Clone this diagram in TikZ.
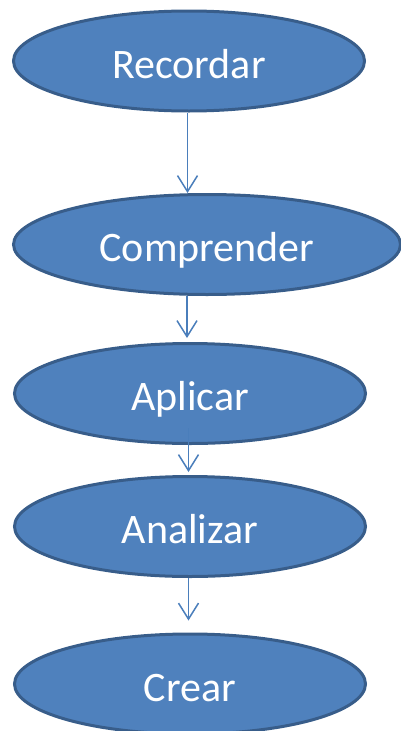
\documentclass[tikz,border=0pt]{standalone}
\usepackage{fontspec}
\setmainfont{Carlito}
\usetikzlibrary{shapes.geometric,arrows.meta}

\definecolor{azul}{HTML}{4F81BD}
\definecolor{bordeazul}{HTML}{385D8A}
\definecolor{flechaazul}{HTML}{4A7EBB}

\tikzset{
  nivel/.style={ellipse, draw=bordeazul, fill=azul, line width=3pt,
    text=white, font=\fontsize{42}{50}\selectfont, inner sep=0pt,
    text height=34pt, text depth=0pt,
    minimum width=351pt, minimum height=100pt},
  flecha/.style={flechaazul, line width=1.5pt,
    -{Straight Barb[length=16pt,width=20pt,line width=1.5pt]}}
}

\begin{document}
\begin{tikzpicture}[x=1pt, y=-1pt]
    \useasboundingbox (0,0) rectangle (401,731);

    % Levels
    \node[nivel] (rec) at (189,61) {Recordar};
    \node[nivel, minimum width=387pt] (comp) at (207,244.5) {Comprender};
    \node[nivel] (apl) at (190,393.5) {Aplicar};
    \node[nivel] (anal) at (190,526.5) {Analizar};
    \node[nivel] (crear) at (190,684) {Crear};

    % Arrows between levels
    \draw[flecha] ([xshift=-1.5pt]rec.south) -- ([xshift=-19.5pt]comp.north);
    \draw[flecha, shorten >=4pt] ([xshift=-20pt]comp.south) -- ([xshift=-3pt]apl.north);
    \draw[flecha, shorten >=3pt] ([xshift=-1.5pt, yshift=17pt]apl.south) -- ([xshift=-1.5pt]anal.north);
    \draw[flecha, shorten >=12pt] ([xshift=-1.5pt]anal.south) -- ([xshift=-1.5pt]crear.north);
\end{tikzpicture}
\end{document}
